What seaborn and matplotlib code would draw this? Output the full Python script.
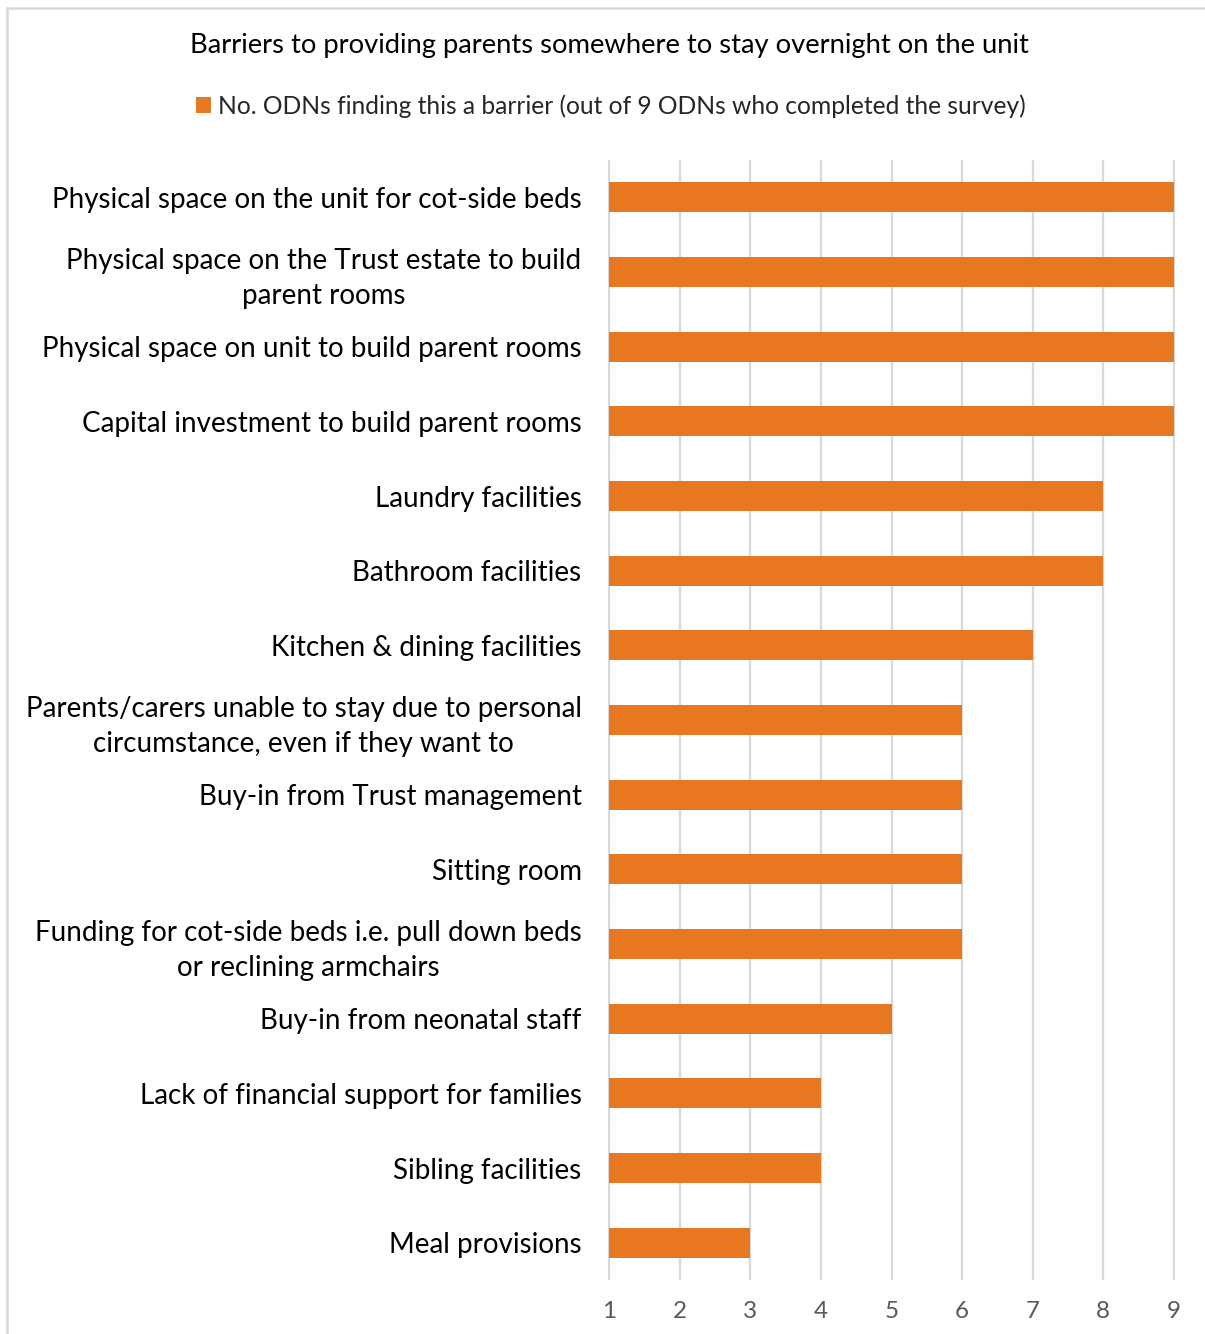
import matplotlib
matplotlib.use("Agg")
import matplotlib.pyplot as plt
import seaborn as sns
import pandas as pd
from matplotlib.lines import Line2D
from matplotlib.patches import Patch

categories = [
    "Physical space on the unit for cot-side beds",
    "Physical space on the Trust estate to build\nparent rooms",
    "Physical space on unit to build parent rooms",
    "Capital investment to build parent rooms",
    "Laundry facilities",
    "Bathroom facilities",
    "Kitchen & dining facilities",
    "Parents/carers unable to stay due to personal\ncircumstance, even if they want to",
    "Buy-in from Trust management",
    "Sitting room",
    "Funding for cot-side beds i.e. pull down beds\nor reclining armchairs",
    "Buy-in from neonatal staff",
    "Lack of financial support for families",
    "Sibling facilities",
    "Meal provisions",
]
values = [9, 9, 9, 9, 8, 8, 7, 6, 6, 6, 6, 5, 4, 4, 3]
x_ticks = [1, 2, 3, 4, 5, 6, 7, 8, 9]
title = "Barriers to providing parents somewhere to stay overnight on the unit"
legend_label = "No. ODNs finding this a barrier (out of 9 ODNs who completed the survey)"

sns.set_theme(style="white")
plt.rcParams["font.family"] = ["Lato", "DejaVu Sans"]

df = pd.DataFrame({"cat": categories, "val": values})
df["len"] = df["val"] - 1

W, H = 1205, 1334
fig = plt.figure(figsize=(W / 100, H / 100), dpi=100)
ax = fig.add_axes([608 / W, 1 - 1280 / H, (1175 - 608) / W, (1280 - 160) / H])

color = "#E87722"
sns.barplot(data=df, x="len", y="cat", orient="h", color=color, width=0.4,
            ax=ax, left=1, saturation=1, edgecolor="none")

ax.set_xlim(0.98, 9.02)
ax.set_ylim(14.5, -0.5)
ax.set_xticks(x_ticks)
ax.set_xticklabels([str(t) for t in x_ticks], fontsize=17.5, color="#595959")
ax.tick_params(axis="x", length=0, pad=15)
ax.tick_params(axis="y", length=0, pad=19)
for lab in ax.get_yticklabels():
    lab.set_fontsize(20.0)
    lab.set_color("#000000")
    lab.set_multialignment("center")
    lab.set_linespacing(1.4)
ax.set_xlabel("")
ax.set_ylabel("")
for s in ax.spines.values():
    s.set_visible(False)
ax.grid(axis="x", color="#D9D9D9", linewidth=1.6)
ax.set_axisbelow(True)

fig.text(609 / W, 1 - 45 / H, title, ha="center", va="center", fontsize=19.7, color="#000000")
handles = [Patch(facecolor=color, edgecolor="none", label=legend_label)]
fig.legend(handles=handles, loc="center", bbox_to_anchor=(611 / W, 1 - 106 / H),
           frameon=False, fontsize=17.7, handlelength=0.6, handleheight=0.6,
           handletextpad=0.3, borderpad=0)

# chart frame
fig.add_artist(Line2D([7 / W, 1204 / W], [1 - 8 / H, 1 - 8 / H], color="#D9D9D9", lw=1.8, transform=fig.transFigure))
fig.add_artist(Line2D([7 / W, 7 / W], [1 - 8 / H, 0], color="#D9D9D9", lw=1.8, transform=fig.transFigure))

fig.savefig("out.png", dpi=100)
